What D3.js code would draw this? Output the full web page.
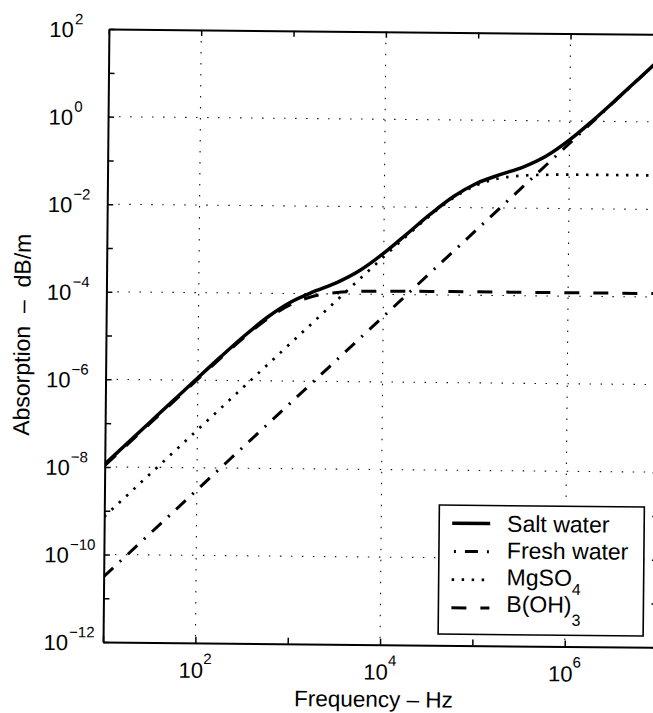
<!DOCTYPE html>
<html>
<head>
<meta charset="utf-8">
<script src="https://cdn.jsdelivr.net/npm/d3@7"></script>
<style>
  body { margin: 0; background: #fff; }
  svg { display: block; }
  text { font-family: "Liberation Sans", Arial, Helvetica, sans-serif; fill: #000; white-space: pre; }
</style>
</head>
<body>
<svg id="chart" width="653" height="713"></svg>
<script>
// Frequencies (Hz), quarter-decade steps from 10 Hz to 10 MHz
const freqHz = [10, 17.78, 31.62, 56.23, 100, 177.8, 316.2, 562.3, 1000, 1778, 3162, 5623,
  1e4, 17780, 31620, 56230, 1e5, 177800, 316200, 562300, 1e6, 1.778e6, 3.162e6, 5.623e6, 1e7];

// Absorption in dB/m for each curve
const saltWater = [1.147e-8, 3.63e-8, 1.147e-7, 3.62e-7, 1.138e-6, 3.54e-6, 1.060e-5, 2.88e-5,
  6.42e-5, 1.127e-4, 1.841e-4, 3.56e-4, 8.73e-4, 2.446e-3, 6.95e-3, 0.0178, 0.0362, 0.0576,
  0.0866, 0.1566, 0.3696, 1.040, 3.160, 9.86, 31.06];
const freshWater = [3.1e-11, 9.80e-11, 3.1e-10, 9.80e-10, 3.1e-9, 9.80e-9, 3.1e-8, 9.80e-8,
  3.1e-7, 9.80e-7, 3.1e-6, 9.80e-6, 3.1e-5, 9.80e-5, 3.1e-4, 9.80e-4, 3.1e-3, 9.80e-3,
  0.031, 0.098, 0.31, 0.980, 3.1, 9.80, 31];
const mgso4 = [7.32e-10, 2.31e-9, 7.32e-9, 2.31e-8, 7.32e-8, 2.31e-7, 7.32e-7, 2.31e-6,
  7.32e-6, 2.31e-5, 7.31e-5, 2.305e-4, 7.23e-4, 2.228e-3, 6.52e-3, 0.0167, 0.03297, 0.04764,
  0.05545, 0.05848, 0.05951, 0.05984, 0.05995, 0.05998, 0.06];
const boh3 = [1.071e-8, 3.39e-8, 1.071e-7, 3.38e-7, 1.062e-6, 3.30e-6, 9.84e-6, 2.64e-5,
  5.66e-5, 8.86e-5, 1.079e-4, 1.159e-4, 1.187e-4, 1.196e-4, 1.1987e-4, 1.1996e-4, 1.2e-4,
  1.2e-4, 1.2e-4, 1.2e-4, 1.2e-4, 1.2e-4, 1.2e-4, 1.2e-4, 1.2e-4];

// Tick exponents
const xTickExp = [1, 2, 3, 4, 5, 6, 7];
const xLabelExp = [2, 4, 6];
const yTickExp = [-12, -11, -10, -9, -8, -7, -6, -5, -4, -3, -2, -1, 0, 1, 2];
const yLabelExp = [2, 0, -2, -4, -6, -8, -10, -12];
const xGridExp = [2, 4, 6];
const yGridExp = [0, -2, -4, -6, -8, -10];

const seriesNames = ["Salt water", "Fresh water", "MgSO", "B(OH)"];
const seriesSubs = ["", "", "4", "3"];
const seriesValues = [saltWater, freshWater, mgso4, boh3];

const xTitle = "Frequency \u2013 Hz";
const yTitle = "Absorption  \u2013  dB/m";

// ---- layout ----
const plot = { left: 106, top: 31.7, right: 660, bottom: 644.7 };
const dashes = ["none", "13,9,2,9", "2.5,7.5", "15,14"];
const widths = [3.5, 3, 2.7, 3];

const svg = d3.select("#chart");
const root = svg.append("g").attr("transform", "rotate(0.55,384,335)");

const x = d3.scaleLog().domain([10, 1e7]).range([plot.left, plot.right]);
const y = d3.scaleLog().domain([1e-12, 1e2]).range([plot.bottom, plot.top]);

const supText = e => (e < 0 ? "\u2212" + (-e) : String(e));

// grid
const grid = root.append("g").attr("stroke", "#111").attr("stroke-width", 1.1)
  .attr("stroke-dasharray", "1.5,9.5");
grid.selectAll("line.gx").data(xGridExp).join("line").attr("class", "gx")
  .attr("x1", e => x(Math.pow(10, e))).attr("x2", e => x(Math.pow(10, e)))
  .attr("y1", plot.top).attr("y2", plot.bottom);
grid.selectAll("line.gy").data(yGridExp).join("line").attr("class", "gy")
  .attr("y1", e => y(Math.pow(10, e))).attr("y2", e => y(Math.pow(10, e)))
  .attr("x1", plot.left).attr("x2", plot.right);

// curves
root.append("clipPath").attr("id", "plotclip").append("rect")
  .attr("x", plot.left).attr("y", plot.top)
  .attr("width", plot.right - plot.left).attr("height", plot.bottom - plot.top);

const line = d3.line().x(d => x(d[0])).y(d => y(d[1])).curve(d3.curveMonotoneX);
const curves = root.append("g").attr("clip-path", "url(#plotclip)");
seriesValues.forEach((vals, i) => {
  curves.append("path")
    .datum(freqHz.map((f, k) => [f, vals[k]]))
    .attr("d", line)
    .attr("fill", "none")
    .attr("stroke", "#000")
    .attr("stroke-width", widths[i])
    .attr("stroke-dasharray", dashes[i] === "none" ? null : dashes[i]);
});

// axes (ticks inside, on all four sides)
const xTicks = xTickExp.map(e => Math.pow(10, e));
const yTicks = yTickExp.map(e => Math.pow(10, e));
function styleAxis(g) {
  g.selectAll("text").remove();
  g.select(".domain").attr("stroke", "#000").attr("stroke-width", 2);
  g.selectAll(".tick line").attr("stroke", "#000").attr("stroke-width", 1.5);
}
root.append("g").attr("transform", `translate(0,${plot.bottom})`)
  .call(d3.axisBottom(x).tickValues(xTicks).tickFormat("").tickSizeInner(-6).tickSizeOuter(0))
  .call(styleAxis);
root.append("g").attr("transform", `translate(0,${plot.top})`)
  .call(d3.axisTop(x).tickValues(xTicks).tickFormat("").tickSizeInner(-6).tickSizeOuter(0))
  .call(styleAxis);
root.append("g").attr("transform", `translate(${plot.left},0)`)
  .call(d3.axisLeft(y).tickValues(yTicks).tickFormat("").tickSizeInner(-6).tickSizeOuter(0))
  .call(styleAxis);
root.append("g").attr("transform", `translate(${plot.right},0)`)
  .call(d3.axisRight(y).tickValues(yTicks).tickFormat("").tickSizeInner(-6).tickSizeOuter(0))
  .call(styleAxis);

// x tick labels
root.append("g").selectAll("text").data(xLabelExp).join("text")
  .attr("x", e => x(Math.pow(10, e)))
  .attr("y", plot.bottom + 35)
  .attr("text-anchor", "middle")
  .attr("font-size", 22)
  .each(function (e) {
    const t = d3.select(this);
    t.append("tspan").text("10");
    t.append("tspan").attr("dy", -14).attr("font-size", 15).text(supText(e));
  });

// y tick labels: base right-aligned, exponent hanging to the right
const yl = root.append("g");
yl.selectAll("text.base").data(yLabelExp).join("text").attr("class", "base")
  .attr("x", plot.left - 35).attr("y", e => y(Math.pow(10, e)) + 8.5)
  .attr("text-anchor", "end").attr("font-size", 22).text("10");
yl.selectAll("text.exp").data(yLabelExp).join("text").attr("class", "exp")
  .attr("x", plot.left - 34).attr("y", e => y(Math.pow(10, e)) - 4.5)
  .attr("font-size", 15).text(e => supText(e));

// axis titles
root.append("text").attr("x", (plot.left + plot.right) / 2 - 6).attr("y", 707)
  .attr("text-anchor", "middle").attr("font-size", 22.5).text(xTitle);
root.append("text")
  .attr("transform", `translate(30,${(plot.top + plot.bottom) / 2}) rotate(-90)`)
  .attr("text-anchor", "middle").attr("font-size", 23).text(yTitle);

// legend
const lg = { left: 441, top: 504.5, right: 646, bottom: 633.5 };
const legend = root.append("g");
legend.append("rect")
  .attr("x", lg.left).attr("y", lg.top)
  .attr("width", lg.right - lg.left).attr("height", lg.bottom - lg.top)
  .attr("fill", "#fff").attr("stroke", "#000").attr("stroke-width", 1.6);
const subDy = [0, 0, 9, 13];
seriesNames.forEach((name, i) => {
  const ly = lg.top + 18 + i * 28.2;
  legend.append("line")
    .attr("x1", lg.left + 13).attr("x2", lg.left + 51)
    .attr("y1", ly).attr("y2", ly)
    .attr("stroke", "#000").attr("stroke-width", widths[i])
    .attr("stroke-dasharray", dashes[i] === "none" ? null : dashes[i])
    .attr("stroke-dashoffset", i === 1 ? 20 : 0);
  const t = legend.append("text")
    .attr("x", lg.left + 68).attr("y", lg.top + 26 + i * 26.8)
    .attr("font-size", 23);
  t.append("tspan").text(name);
  if (seriesSubs[i]) {
    t.append("tspan").attr("dy", subDy[i]).attr("font-size", 16).text(seriesSubs[i]);
  }
});
</script>
</body>
</html>
